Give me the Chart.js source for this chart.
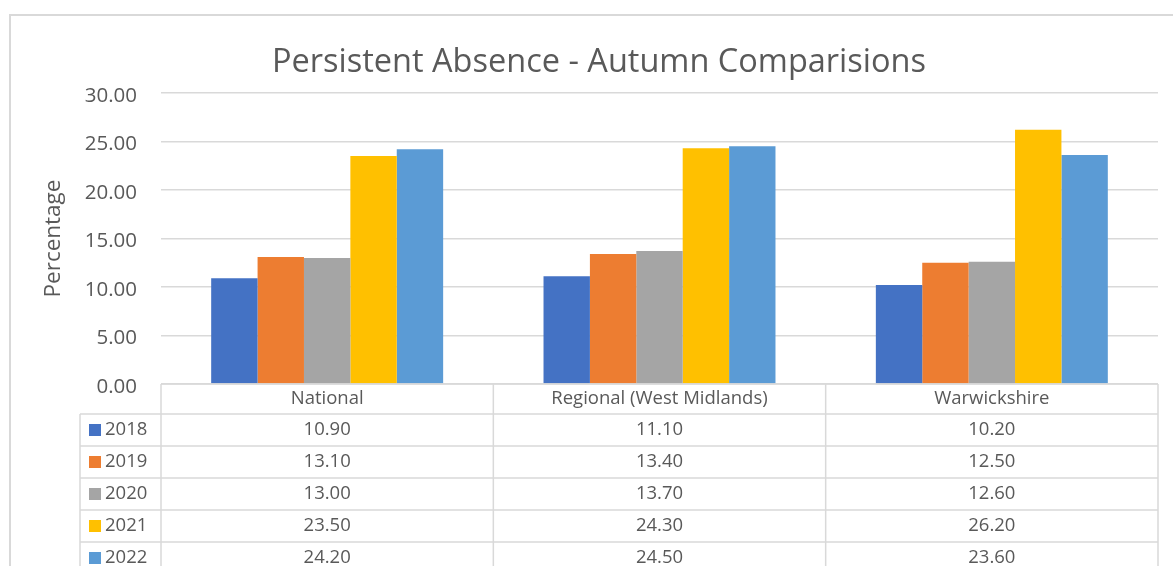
<!DOCTYPE html>
<html>
<head>
<meta charset="utf-8">
<script src="https://cdn.jsdelivr.net/npm/chart.js@4/dist/chart.umd.min.js"></script>
<style>
    html, body { margin: 0; padding: 0; background: #fff; }
    #wrap { width: 1173px; height: 566px; }
</style>
</head>
<body>
<div id="wrap"><canvas id="absenceChart" width="1173" height="566"></canvas></div>
<script>
const categories = ['National', 'Regional (West Midlands)', 'Warwickshire'];
const years      = ['2018', '2019', '2020', '2021', '2022'];
const values2018 = [10.90, 11.10, 10.20];
const values2019 = [13.10, 13.40, 12.50];
const values2020 = [13.00, 13.70, 12.60];
const values2021 = [23.50, 24.30, 26.20];
const values2022 = [24.20, 24.50, 23.60];
const yTicks     = [0, 5, 10, 15, 20, 25, 30];

const seriesValues = [values2018, values2019, values2020, values2021, values2022];
const colours = ['#4472C4', '#ED7D31', '#A5A5A5', '#FFC000', '#5B9BD5'];

const FONT = "'Open Sans', 'Liberation Sans', sans-serif";
const TEXT = '#595959';
const LINE = '#d9d9d9';

// outer frame of the chart object (runs off the page right and bottom)
const framePlugin = {
    id: 'frame',
    beforeDraw(chart) {
        const ctx = chart.ctx;
        ctx.save();
        ctx.strokeStyle = LINE;
        ctx.lineWidth = 2;
        ctx.strokeRect(10, 15, 2000, 2000);
        ctx.restore();
    }
};

// Excel style data table under the plot, columns follow the x scale
const tablePlugin = {
    id: 'dataTable',
    afterDraw(chart) {
        const { ctx, chartArea, scales } = chart;
        const x = scales.x;
        const top = chartArea.bottom;
        const left = chartArea.left;
        const right = chartArea.right;
        const colW = (right - left) / categories.length;
        const headerH = 30;
        const rowH = 32;
        const keyLeft = 80;
        const bottom = top + headerH + rowH * (years.length + 1);

        ctx.save();
        ctx.strokeStyle = LINE;
        ctx.lineWidth = 1.5;

        // top line (also the category axis line)
        ctx.beginPath();
        ctx.moveTo(left, top);
        ctx.lineTo(right, top);
        // row lines
        for (let r = 0; r <= years.length; r++) {
            const y = top + headerH + r * rowH;
            ctx.moveTo(keyLeft, y);
            ctx.lineTo(right, y);
        }
        // column lines
        for (let c = 0; c <= categories.length; c++) {
            const cx = left + c * colW;
            ctx.moveTo(cx, top);
            ctx.lineTo(cx, bottom);
        }
        ctx.moveTo(keyLeft, top + headerH);
        ctx.lineTo(keyLeft, bottom);
        ctx.stroke();

        ctx.fillStyle = TEXT;
        ctx.font = `18.5px ${FONT}`;
        ctx.textBaseline = 'middle';
        ctx.textAlign = 'center';

        categories.forEach((cat, i) => {
            ctx.fillText(cat, x.getPixelForValue(i), top + headerH / 2);
        });

        chart.data.datasets.forEach((ds, r) => {
            const cy = top + headerH + r * rowH + rowH / 2;
            ctx.fillStyle = ds.backgroundColor;
            ctx.fillRect(89, cy - 6, 12, 12);
            ctx.fillStyle = TEXT;
            ctx.textAlign = 'left';
            ctx.fillText(ds.label, 105, cy);
            ctx.textAlign = 'center';
            ds.data.forEach((v, i) => {
                ctx.fillText(v.toFixed(2), x.getPixelForValue(i), cy);
            });
        });
        ctx.restore();
    }
};

const ctx = document.getElementById('absenceChart').getContext('2d');
new Chart(ctx, {
    type: 'bar',
    data: {
        labels: categories,
        datasets: years.map((yr, i) => ({
            label: yr,
            data: seriesValues[i],
            backgroundColor: colours[i],
            borderWidth: 0,
            categoryPercentage: 0.698,
            barPercentage: 1.0
        }))
    },
    options: {
        responsive: false,
        animation: false,
        devicePixelRatio: 1,
        layout: { padding: { left: 40, right: 15, top: 14, bottom: 182 } },
        plugins: {
            legend: { display: false },
            tooltip: { enabled: false },
            title: {
                display: true,
                text: 'Persistent Absence - Autumn Comparisions',
                color: TEXT,
                font: { family: FONT, size: 32.5, weight: 'normal', lineHeight: 1.2 },
                padding: { top: 29, bottom: 11 }
            }
        },
        scales: {
            x: { display: false },
            y: {
                min: 0,
                max: 30,
                afterBuildTicks: scale => { scale.ticks = yTicks.map(v => ({ value: v })); },
                afterFit: scale => { scale.width = 161 - 40; },
                border: { display: false },
                grid: { color: LINE, lineWidth: 1.5, drawTicks: false },
                ticks: {
                    color: TEXT,
                    padding: 24,
                    labelOffset: 3,
                    font: { family: FONT, size: 20.5 },
                    callback: v => v.toFixed(2)
                },
                title: {
                    display: true,
                    text: 'Percentage',
                    color: TEXT,
                    font: { family: FONT, size: 22.5 },
                    padding: 0
                }
            }
        }
    },
    plugins: [framePlugin, tablePlugin]
});
</script>
</body>
</html>
